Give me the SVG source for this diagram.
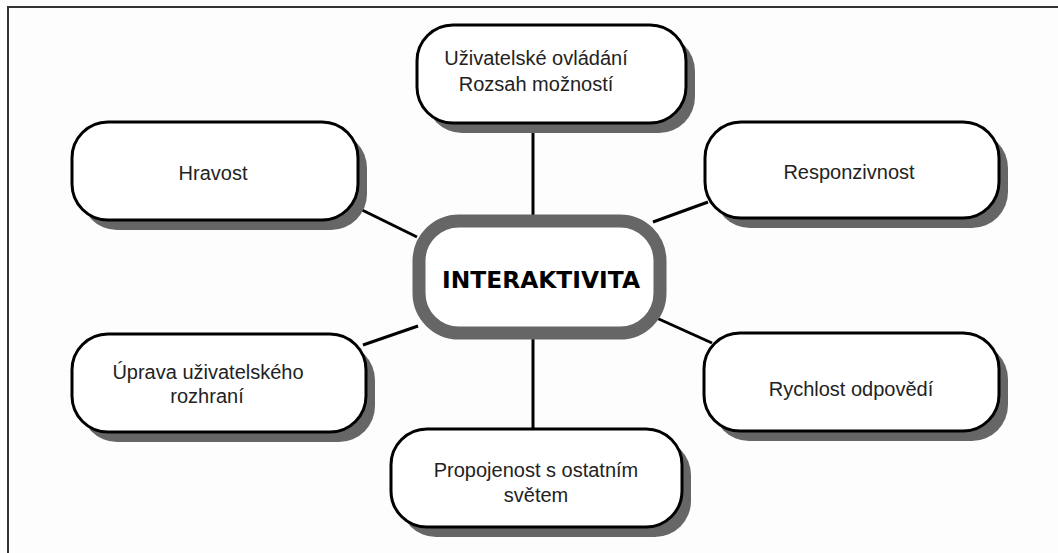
<svg xmlns="http://www.w3.org/2000/svg" width="1058" height="553" viewBox="0 0 1058 553">
  <style>
    .shadow { fill: #666; stroke: none; }
    .box { fill: #fff; stroke: #000; stroke-width: 3; }
    .label { font-family: "Liberation Sans", Arial, sans-serif; font-size: 20px; fill: #222; text-anchor: middle; }
    .title { font-family: "DejaVu Sans", Verdana, sans-serif; font-weight: bold; font-size: 23px; fill: #000; text-anchor: middle; }
    .link { stroke: #000; stroke-width: 3; fill: none; }
  </style>
  <rect x="0" y="0" width="1058" height="553" fill="#fdfdfd"/>
  <!-- page frame -->
  <path d="M8,553 V7 H1058" fill="none" stroke="#333" stroke-width="2"/>

  <g id="connectors">
    <line class="link" x1="533" y1="123" x2="533" y2="215"/>
    <line class="link" x1="533" y1="339" x2="533" y2="429"/>
    <line class="link" x1="358" y1="208" x2="417" y2="237"/>
    <line class="link" x1="363" y1="345" x2="418" y2="326"/>
    <line class="link" x1="653" y1="222" x2="708" y2="202"/>
    <line class="link" x1="650" y1="315" x2="712" y2="343"/>
  </g>

  <g id="node-ovladani">
    <rect class="shadow" x="426" y="35" width="269" height="98" rx="36"/>
    <rect class="box" x="417" y="25" width="269" height="98" rx="36"/>
    <text class="label" x="536" y="65">Uživatelské ovládání</text>
    <text class="label" x="536" y="91">Rozsah možností</text>
  </g>

  <g id="node-hravost">
    <rect class="shadow" x="81" y="132" width="286" height="98" rx="36"/>
    <rect class="box" x="72" y="122" width="286" height="98" rx="36"/>
    <text class="label" x="213" y="180">Hravost</text>
  </g>

  <g id="node-responzivnost">
    <rect class="shadow" x="714" y="132" width="294" height="96" rx="36"/>
    <rect class="box" x="705" y="122" width="294" height="96" rx="36"/>
    <text class="label" x="849" y="179">Responzivnost</text>
  </g>

  <g id="node-interaktivita">
    <rect x="419" y="221" width="241" height="112" rx="40" fill="#fff" stroke="#666" stroke-width="13"/>
    <text class="title" x="541" y="288" textLength="198" lengthAdjust="spacingAndGlyphs">INTERAKTIVITA</text>
  </g>

  <g id="node-uprava">
    <rect class="shadow" x="81" y="344" width="294" height="98" rx="36"/>
    <rect class="box" x="72" y="334" width="294" height="98" rx="36"/>
    <text class="label" x="208" y="379">Úprava uživatelského</text>
    <text class="label" x="207" y="403">rozhraní</text>
  </g>

  <g id="node-rychlost">
    <rect class="shadow" x="713" y="343" width="295" height="98" rx="36"/>
    <rect class="box" x="704" y="333" width="295" height="98" rx="36"/>
    <text class="label" x="851" y="396">Rychlost odpovědí</text>
  </g>

  <g id="node-propojenost">
    <rect class="shadow" x="400" y="439" width="291" height="98" rx="36"/>
    <rect class="box" x="391" y="429" width="291" height="98" rx="36"/>
    <text class="label" x="536" y="477">Propojenost s ostatním</text>
    <text class="label" x="536" y="502">světem</text>
  </g>
</svg>
